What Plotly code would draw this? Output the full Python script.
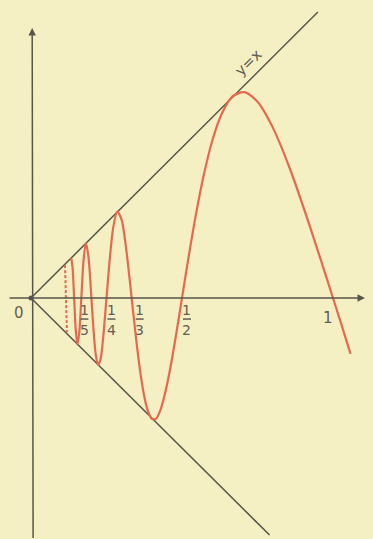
import plotly.graph_objects as go

# points (x, y in axis units, 1 unit = x=1)
curve_x = [0.1333, 0.1379, 0.1429, 0.1481, 0.1538, 0.16, 0.1667,
           0.1739, 0.1818, 0.1905, 0.2, 0.2069, 0.2143, 0.2222, 0.2308, 0.24, 0.25,
           0.2609, 0.2727, 0.2857, 0.30, 0.3158, 0.3333,
           0.3429, 0.3529, 0.3636, 0.375, 0.3871, 0.40, 0.4138, 0.4286, 0.4444,
           0.4615, 0.48, 0.5,
           0.5217, 0.5455, 0.5714, 0.60, 0.6316, 0.6667, 0.7059, 0.75, 0.80,
           0.857, 0.923, 1.0, 1.027, 1.058]
curve_y = [0.133, 0.098, 0.0, -0.105, -0.154, -0.113, 0.0,
           0.123, 0.182, 0.135, 0.0, -0.103, -0.186, -0.222, -0.200, -0.120, 0.0,
           0.130, 0.236, 0.286, 0.260, 0.158, 0.0,
           -0.089, -0.176, -0.257, -0.325, -0.374, -0.400, -0.400, -0.371, -0.314,
           -0.231, -0.124, 0.0,
           0.135, 0.273, 0.404, 0.520, 0.610, 0.667, 0.682, 0.650, 0.566,
           0.429, 0.239, 0.0, -0.085, -0.185]

dash_x = [0.1126, 0.119]
dash_y = [0.109, -0.113]

upper_x = [0, 0.95]
upper_y = [0, 0.947]
lower_x = [0, 0.79]
lower_y = [0, -0.785]

tick_vals = [1/5, 1/4, 1/3, 1/2]
tick_num = ["1", "1", "1", "1"]
tick_den = ["5", "4", "3", "2"]

AX = "#55564c"
RED = "#e8684e"
TXT = "#5f5f54"
BG = "#f5efc4"
FONT = "DejaVu Sans"

fig = go.Figure()
fig.add_trace(go.Scatter(x=upper_x, y=upper_y, mode="lines",
                         line=dict(color=AX, width=1.5), hoverinfo="skip"))
fig.add_trace(go.Scatter(x=lower_x, y=lower_y, mode="lines",
                         line=dict(color=AX, width=1.5), hoverinfo="skip"))
fig.add_trace(go.Scatter(x=curve_x, y=curve_y, mode="lines",
                         line=dict(color=RED, width=2.2, shape="spline", smoothing=0.8),
                         hoverinfo="skip"))
fig.add_trace(go.Scatter(x=dash_x, y=dash_y, mode="lines",
                         line=dict(color=RED, width=2, dash="3px,2px"), hoverinfo="skip"))

# axes with arrows
fig.add_annotation(x=1.106, y=0, ax=-0.076, ay=0, xref="x", yref="y", axref="x", ayref="y",
                   showarrow=True, arrowhead=2, arrowsize=1, arrowwidth=1.5,
                   arrowcolor=AX, text="")
fig.add_annotation(x=0.004, y=0.894, ax=0.007, ay=-0.8, xref="x", yref="y", axref="x", ayref="y",
                   showarrow=True, arrowhead=2, arrowsize=1, arrowwidth=1.5,
                   arrowcolor=AX, text="")

# origin dot
fig.add_trace(go.Scatter(x=[0], y=[0], mode="markers",
                         marker=dict(color=AX, size=5), hoverinfo="skip"))

# fraction labels
shifts = [-7, 5, 8, 5]
for v, n, d, s in zip(tick_vals, tick_num, tick_den, shifts):
    fig.add_annotation(x=v, y=0, xref="x", yref="y", text=n, showarrow=False,
                       xshift=s, yshift=-12, font=dict(family=FONT, size=14, color=TXT))
    fig.add_annotation(x=v, y=0, xref="x", yref="y", text=d, showarrow=False,
                       xshift=s, yshift=-32, font=dict(family=FONT, size=14, color=TXT))
    fig.add_shape(type="line", xref="x", yref="y", xsizemode="pixel", ysizemode="pixel",
                  xanchor=v, yanchor=0, x0=s - 4, x1=s + 4, y0=-21, y1=-21,
                  line=dict(color=TXT, width=1.5))

fig.add_annotation(x=1.0, y=0, xref="x", yref="y", text="1", showarrow=False,
                   xshift=-5, yshift=-20, font=dict(family=FONT, size=15, color=TXT))
fig.add_annotation(x=0, y=0, xref="x", yref="y", text="0", showarrow=False,
                   xshift=-12, yshift=-15, font=dict(family=FONT, size=15, color=TXT))
fig.add_annotation(x=0.718, y=0.780, xref="x", yref="y", text="y=x", showarrow=False,
                   textangle=-45, font=dict(family=FONT, size=15, color=TXT))

fig.update_layout(
    width=373, height=539, autosize=False,
    margin=dict(l=0, r=0, t=0, b=0),
    paper_bgcolor=BG, plot_bgcolor=BG,
    showlegend=False,
    xaxis=dict(range=[-0.1026, 1.1325], visible=False, fixedrange=True),
    yaxis=dict(range=[-0.798, 0.987], visible=False, fixedrange=True),
)

fig.write_html("out.html", config={"displayModeBar": False},
               post_script="document.body.style.margin='0';")
